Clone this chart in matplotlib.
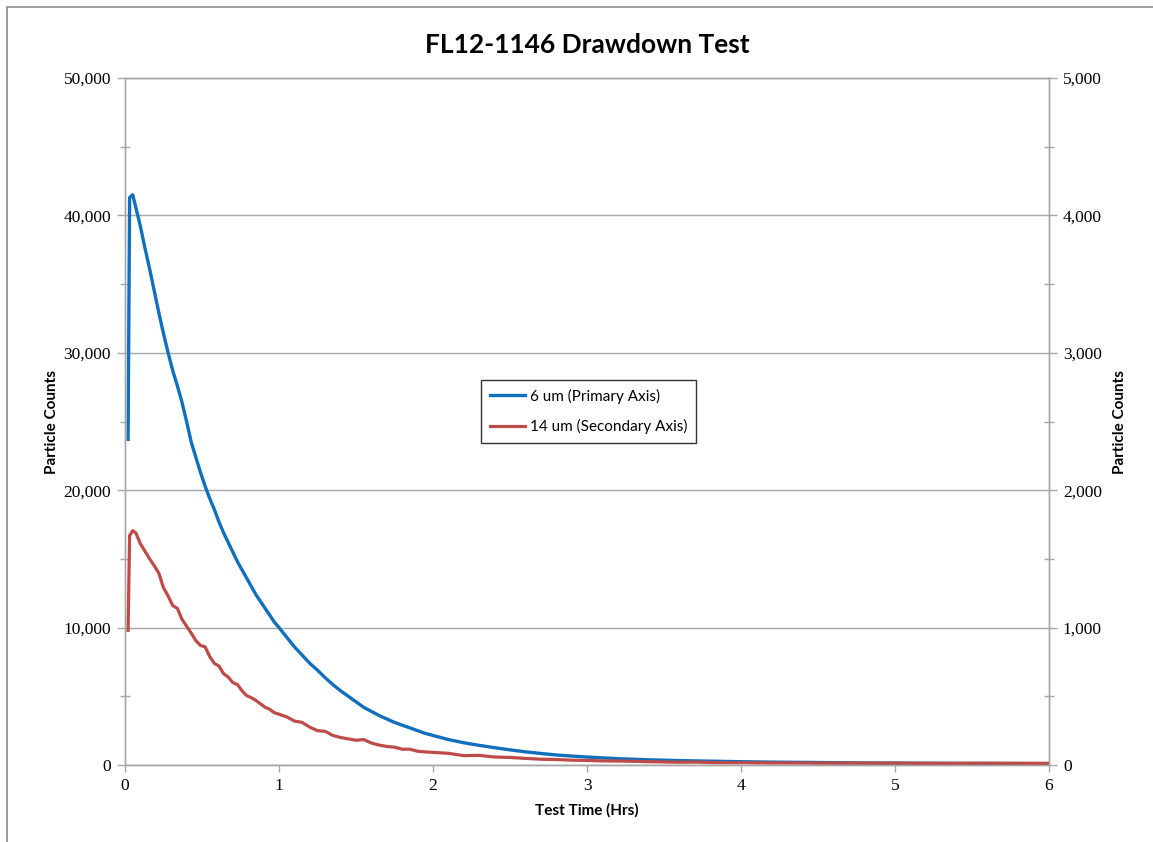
import matplotlib
matplotlib.use("Agg")
import matplotlib.pyplot as plt
from matplotlib.ticker import MultipleLocator, StrMethodFormatter
from matplotlib.patches import Rectangle

# Test time (hours)
hours = [0.02, 0.03, 0.05, 0.07, 0.10, 0.13, 0.16, 0.19, 0.22, 0.25,
         0.28, 0.31, 0.34, 0.37, 0.40, 0.43, 0.46, 0.49, 0.52, 0.55,
         0.58, 0.61, 0.64, 0.67, 0.70, 0.73, 0.76, 0.79, 0.82, 0.85,
         0.88, 0.91, 0.94, 0.97, 1.00, 1.05, 1.10, 1.15, 1.20, 1.25,
         1.30, 1.35, 1.40, 1.45, 1.50, 1.55, 1.60, 1.65, 1.70, 1.75,
         1.80, 1.85, 1.90, 1.95, 2.00, 2.10, 2.20, 2.30, 2.40, 2.50,
         2.60, 2.70, 2.80, 2.90, 3.00, 3.10, 3.20, 3.30, 3.40, 3.50,
         3.60, 3.70, 3.80, 3.90, 4.00, 4.20, 4.40, 4.60, 4.80, 5.00,
         5.20, 5.40, 5.60, 5.80, 6.00]

# 6 um counts (primary axis)
counts_6um = [23700, 41300, 41500, 40600, 39200, 37600, 36100, 34500, 32900, 31400,
              30000, 28700, 27600, 26400, 25000, 23500, 22400, 21300, 20300, 19400,
              18600, 17700, 16900, 16200, 15500, 14800, 14200, 13600, 13000, 12400,
              11900, 11400, 10900, 10400, 10000, 9300, 8600, 8000, 7400, 6900,
              6350, 5850, 5400, 5000, 4600, 4200, 3900, 3600, 3350, 3100,
              2900, 2700, 2500, 2300, 2150, 1850, 1620, 1430, 1260, 1100,
              960, 840, 730, 650, 580, 520, 460, 420, 380, 350,
              320, 300, 280, 260, 240, 210, 190, 170, 150, 140,
              130, 120, 110, 110, 100]

# 14 um counts (secondary axis)
counts_14um = [980, 1670, 1705, 1690, 1610, 1555, 1500, 1450, 1395, 1290,
               1230, 1160, 1140, 1060, 1010, 960, 905, 870, 860, 790,
               740, 720, 665, 640, 600, 585, 540, 505, 490, 470,
               445, 420, 405, 380, 370, 350, 320, 310, 275, 250,
               245, 215, 200, 190, 180, 185, 160, 145, 135, 130,
               115, 115, 100, 95, 92, 85, 68, 70, 58, 55,
               48, 42, 40, 35, 33, 30, 29, 27, 24, 22,
               20, 21, 18, 17, 17, 15, 15, 13, 14, 13,
               12, 12, 13, 12, 12]

x_ticks = [0, 1, 2, 3, 4, 5, 6]

grey = "#A6A6A6"
blue = "#1170BE"
red = "#BE4B48"
txt_font = ["Lato", "DejaVu Sans"]
num_font = ["Liberation Serif", "DejaVu Serif"]

fig = plt.figure(figsize=(11.53, 8.42), dpi=100)
ax = fig.add_axes([125 / 1153, 1 - 765 / 842, (1049 - 125) / 1153, (765 - 78) / 842])
ax2 = ax.twinx()

# outer chart frame
fig.patches.append(Rectangle((7 / 1153, -0.05), 1.1, 1.05 - 7 / 842,
                             transform=fig.transFigure, fill=False,
                             edgecolor="#8C8C8C", linewidth=1.2))

l1, = ax.plot(hours, counts_6um, color=blue, linewidth=2.4, label="6 um (Primary Axis)")
l2, = ax2.plot(hours, counts_14um, color=red, linewidth=2.3, label="14 um (Secondary Axis)")

ax.set_xlim(0, 6)
ax.set_ylim(0, 50000)
ax2.set_ylim(0, 5000)
ax.set_xticks(x_ticks)

ax.yaxis.set_major_locator(MultipleLocator(10000))
ax.yaxis.set_minor_locator(MultipleLocator(5000))
ax2.yaxis.set_major_locator(MultipleLocator(1000))
ax2.yaxis.set_minor_locator(MultipleLocator(500))
ax.yaxis.set_major_formatter(StrMethodFormatter("{x:,.0f}"))
ax2.yaxis.set_major_formatter(StrMethodFormatter("{x:,.0f}"))

ax.grid(axis="y", color=grey, linewidth=1.0)
ax.set_axisbelow(True)

for a in (ax, ax2):
    for s in a.spines.values():
        s.set_color(grey)
        s.set_linewidth(1.0)
    a.tick_params(which="major", direction="out", length=6, color=grey, width=1.0,
                  labelsize=12.5, pad=4)
    a.tick_params(which="minor", direction="inout", length=7, color=grey, width=1.0)
    for lab in a.get_xticklabels() + a.get_yticklabels():
        lab.set_family(num_font)
ax.tick_params(axis="x", which="major", length=5)

ax.set_title("FL12-1146 Drawdown Test", family=txt_font, fontsize=19,
             fontweight="bold", pad=18)
ax.set_xlabel("Test Time (Hrs)", family=txt_font, fontsize=11, fontweight="bold", labelpad=7)
ax.set_ylabel("Particle Counts", family=txt_font, fontsize=11, fontweight="bold", labelpad=3)
ax2.set_ylabel("Particle Counts", family=txt_font, fontsize=11, fontweight="bold", labelpad=8)

leg = ax2.legend(handles=[l1, l2], loc="upper left", bbox_to_anchor=(0.385, 0.561),
                 borderaxespad=0, frameon=True, fancybox=False, edgecolor="black",
                 prop={"family": txt_font, "size": 11},
                 handlelength=2.3, handletextpad=0.3, borderpad=0.6, labelspacing=1.0)
leg.get_frame().set_linewidth(1.0)

fig.savefig("out.png", dpi=100)
